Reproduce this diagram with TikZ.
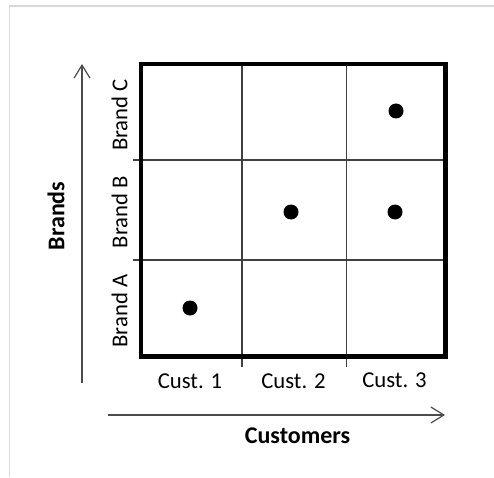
\documentclass[tikz,border=0pt]{standalone}
\usepackage{fontspec}
\setmainfont{Carlito}
\usetikzlibrary{arrows.meta}
\tikzset{>={Straight Barb[length=13pt,width=16pt,line width=1.2pt]}}
\tikzset{
  tick/.style={font=\fontsize{22.7}{27}\selectfont, inner sep=0pt},
  axis/.style={font=\fontsize{24}{29}\selectfont\bfseries, inner sep=0pt},
  grid/.style={line width=1.2pt, draw=black!75},
  dot/.style={circle, fill=black, minimum size=15pt, inner sep=0pt},
}

\begin{document}
\begin{tikzpicture}[x=1pt, y=1pt]
      \useasboundingbox (0, 0) rectangle (494, 477);
      % frame
      \draw[line width=1.5pt, black!15] (9.5, 0) -- (9.5, 471) -- (494, 471);
      % axes
      \coordinate (y0) at (82, 94);
      \coordinate (y1) at (82, 413);
      \coordinate (x0) at (108, 62);
      \coordinate (x1) at (445, 62);
      \draw[->, line width=1.2pt, black!70] (y0) -- (y1);
      \draw[->, line width=1.2pt, black!70] (x0) -- (x1);
      \node[axis, rotate=90] (brands) at (56, 261) {Brands};
      \node[axis] (customers) at (297.5, 41) {Customers};
      % cells
      \draw[grid] (242, 413) -- (242, 110);
      \draw[grid] (346.5, 413) -- (346.5, 110);
      \draw[grid] (133, 317) -- (445.5, 317);
      \draw[grid] (133, 217) -- (445.5, 217);
      \draw[line width=4.5pt] (141, 120.5) rectangle (445.5, 413);
      % labels
      \node[tick] (c1) at (190, 96) {Cust. 1};
      \node[tick] (c2) at (293.5, 96) {Cust. 2};
      \node[tick] (c3) at (394.5, 97) {Cust. 3};
      \node[tick, rotate=90] (ba) at (119.5, 166) {Brand A};
      \node[tick, rotate=90] (bb) at (119.5, 265) {Brand B};
      \node[tick, rotate=90] (bc) at (119.5, 362) {Brand C};
      % purchases
      \node[dot] (a1) at (190, 169) {};
      \node[dot] (b2) at (291, 265) {};
      \node[dot] (b3) at (395, 265) {};
      \node[dot] (c3dot) at (396, 366) {};
\end{tikzpicture}
\end{document}
